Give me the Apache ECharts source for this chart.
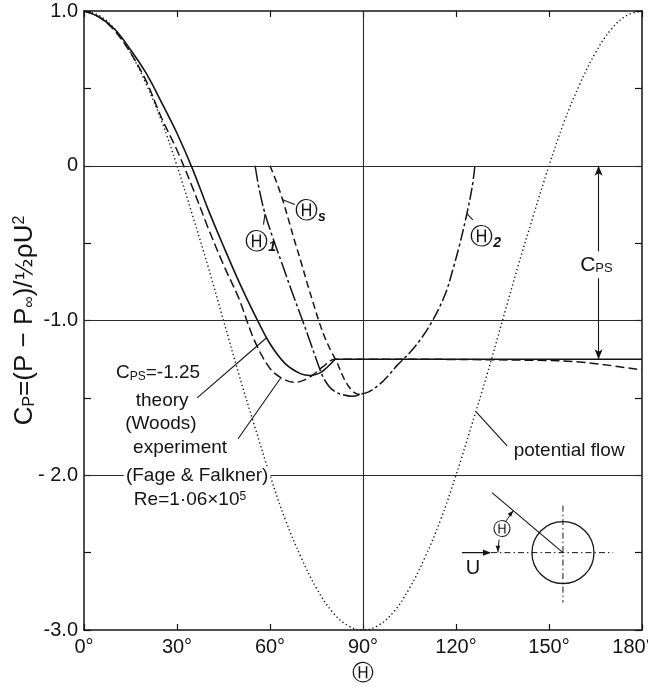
<!DOCTYPE html>
<html><head><meta charset="utf-8">
<script src="https://cdn.jsdelivr.net/npm/echarts@6/dist/echarts.min.js"></script>
<style>html,body{margin:0;padding:0;background:#fff}#c{width:648px;height:687px}</style>
</head><body><div id="c"></div>
<script>
// ---- data ----
const xTicks = [0, 30, 60, 90, 120, 150, 180];
const xTickLabels = ['0°', '30°', '60°', '90°', '120°', '150°', '180°'];
const yTickValues = [1, 0, -1, -2, -3];
const yTickLabels = ['1.0', '0', '-1.0', '- 2.0', '-3.0'];

const potentialTheta = [0,5,10,15,20,25,30,35,40,45,50,55,60,65,70,75,80,85,90,95,100,105,110,115,120,125,130,135,140,145,150,155,160,165,170,175,180];
const potentialCp = [1.0,0.97,0.88,0.73,0.53,0.29,0.0,-0.32,-0.65,-1.0,-1.35,-1.68,-2.0,-2.29,-2.53,-2.73,-2.88,-2.97,-3.0,-2.97,-2.88,-2.73,-2.53,-2.29,-2.0,-1.68,-1.35,-1.0,-0.65,-0.32,0.0,0.29,0.53,0.73,0.88,0.97,1.0];

const theoryTheta = [0,5,10,15,20,25,30,35,40,45,50,55,60,65,70,73,76,78,81];
const theoryCp = [1.0,0.96,0.88,0.75,0.60,0.41,0.21,-0.02,-0.28,-0.52,-0.75,-0.96,-1.15,-1.28,-1.345,-1.355,-1.34,-1.31,-1.25];
const plateauTheta = [81, 180];
const plateauCp = [-1.25, -1.25];

const experimentTheta = [0,5,10,15,20,25,30,35,40,45,50,55,60,64,68,71,74,77,81,153,180];
const experimentCp = [1.0,0.96,0.87,0.73,0.55,0.31,0.10,-0.14,-0.40,-0.64,-0.86,-1.13,-1.31,-1.375,-1.40,-1.385,-1.35,-1.30,-1.25,-1.26,-1.32];

const theta1Theta = [55.2,56.5,58.4,61,64,67,70.5,73,75,77,79,81,83.5,86.5,89.5];
const theta1Cp = [0,-0.15,-0.31,-0.47,-0.64,-0.81,-1.0,-1.14,-1.255,-1.36,-1.425,-1.46,-1.48,-1.49,-1.475];

const thetaSTheta = [60,62,64,66,68,70,72,74,75.7,77.5,79.5,81.6,83.5,85.5,87.5,89.5];
const thetaSCp = [0,-0.10,-0.215,-0.35,-0.49,-0.62,-0.76,-0.89,-1.0,-1.1,-1.19,-1.27,-1.36,-1.43,-1.47,-1.48];

const theta2Theta = [89.5,92,95.5,98,101,105,109,112.6,115,117,119,121.3,123.5,125.2,126.1];
const theta2Cp = [-1.475,-1.46,-1.41,-1.36,-1.29,-1.21,-1.11,-0.995,-0.9,-0.805,-0.67,-0.50,-0.31,-0.14,0];

const gridLinesCp = [0, -1, -2];
const gridLinesTheta = [90];
const cpsArrow = {theta: 166, from: 0, to: -1.25};

// ---- build ----
const zip = (a, b) => a.map((v, i) => [v, b[i]]);
const FONT = 'Liberation Sans';
const INK = '#141414';

function lineSeries(name, xs, ys, type, width, extra) {
  return Object.assign({
    name, type: 'line', data: zip(xs, ys), showSymbol: false, symbol: 'none',
    smooth: 0.35, silent: true,
    lineStyle: {color: INK, width: width, type: type}
  }, extra || {});
}

const option = {
  animation: false,
  backgroundColor: '#fff',
  grid: {left: 84, right: 6, top: 11, bottom: 57, containLabel: false, outerBoundsMode: 'none'},
  xAxis: [{
    type: 'value', min: 0, max: 180, interval: 30, position: 'bottom',
    name: 'Ⓗ', nameLocation: 'middle', nameGap: 33,
    nameTextStyle: {fontSize: 22, color: INK, fontFamily: 'DejaVu Sans'},
    axisLine: {show: true, onZero: false, lineStyle: {color: INK, width: 1.5}},
    axisTick: {show: true, inside: true, length: 6, lineStyle: {color: INK, width: 1.2}},
    axisLabel: {color: INK, fontSize: 20, fontFamily: FONT, margin: 7,
      rich: {m: {fontSize: 20, fontFamily: FONT, color: INK, padding: [0, 18, 0, 0]}},
      formatter: v => {
        const i = xTicks.indexOf(v);
        if (i < 0) return '';
        return i === xTicks.length - 1 ? '{m|' + xTickLabels[i] + '}' : xTickLabels[i];
      }},
    splitLine: {show: false}
  }, {
    type: 'value', min: 0, max: 180, interval: 30, position: 'top',
    axisLine: {show: true, onZero: false, lineStyle: {color: INK, width: 1.5}},
    axisTick: {show: true, inside: true, length: 6, lineStyle: {color: INK, width: 1.2}},
    axisLabel: {show: false}, splitLine: {show: false}
  }],
  yAxis: [{
    type: 'value', min: -3, max: 1, interval: 0.5, position: 'left',
    name: '{a|C}{s|P}{a|=(P − P}{s|∞}{a|)/}{f|½}{a|ρU}{p|2}',
    nameLocation: 'middle', nameGap: 46, nameRotate: 90, nameMoveOverlap: false,
    nameTextStyle: {
      color: INK,
      rich: {
        a: {fontSize: 26, fontFamily: FONT, color: INK, verticalAlign: 'bottom'},
        s: {fontSize: 16, fontFamily: FONT, color: INK, verticalAlign: 'bottom'},
        f: {fontSize: 23, fontFamily: 'DejaVu Sans', color: INK, verticalAlign: 'bottom'},
        p: {fontSize: 16, fontFamily: FONT, color: INK, verticalAlign: 'top'}
      }
    },
    axisLine: {show: true, onZero: false, lineStyle: {color: INK, width: 1.5}},
    axisTick: {show: true, inside: true, length: 7, lineStyle: {color: INK, width: 1.2}},
    axisLabel: {color: INK, fontSize: 20, fontFamily: FONT, margin: 6,
      formatter: v => { const i = yTickValues.findIndex(t => Math.abs(t - v) < 1e-6); return i >= 0 ? yTickLabels[i] : ''; }},
    splitLine: {show: false}
  }, {
    type: 'value', min: -3, max: 1, interval: 0.5, position: 'right',
    axisLine: {show: true, onZero: false, lineStyle: {color: INK, width: 1.5}},
    axisTick: {show: true, inside: true, length: 7, lineStyle: {color: INK, width: 1.2}},
    axisLabel: {show: false}, splitLine: {show: false}
  }],
  series: [
    lineSeries('potential flow', potentialTheta, potentialCp, [1.3, 2.7], 1.4, {
      smooth: 0.4,
      markLine: {
        silent: true, symbol: ['none', 'none'], label: {show: false},
        lineStyle: {color: '#2a2a2a', width: 1.1, type: 'solid'},
        data: gridLinesCp.map(v => ({yAxis: v})).concat(gridLinesTheta.map(v => ({xAxis: v})))
      }
    }),
    lineSeries('experiment', experimentTheta, experimentCp, [9, 4], 1.5),
    lineSeries('theory', theoryTheta, theoryCp, 'solid', 1.6),
    lineSeries('theory plateau', plateauTheta, plateauCp, 'solid', 1.6, {
      smooth: false,
      markLine: {
        silent: true, symbol: ['arrow', 'arrow'], symbolSize: [6, 10], label: {show: false},
        lineStyle: {color: INK, width: 1.1, type: 'solid'},
        data: [[{coord: [cpsArrow.theta, cpsArrow.from]}, {coord: [cpsArrow.theta, cpsArrow.to]}]]
      }
    }),
    lineSeries('Θ1', theta1Theta, theta1Cp, [16, 3, 3, 3], 1.5),
    lineSeries('Θs', thetaSTheta, thetaSCp, [7, 4], 1.5),
    lineSeries('Θ2', theta2Theta, theta2Cp, [12, 3, 3, 3], 1.5)
  ]
};

const chart = echarts.init(document.getElementById('c'));
chart.setOption(option);

const P = (t, c) => chart.convertToPixel({xAxisIndex: 0, yAxisIndex: 0}, [t, c]);
const txt = (pos, text, size, extra) => Object.assign({
  type: 'text', z: 100, x: pos[0], y: pos[1],
  style: Object.assign({text: text, fill: INK, font: size + 'px "' + FONT + '"', align: 'center', verticalAlign: 'middle'}, extra && extra.style || {})
}, extra && extra.el || {});
const seg = (a, b, w, dash) => ({
  type: 'line', z: 100, shape: {x1: a[0], y1: a[1], x2: b[0], y2: b[1]},
  style: {stroke: INK, lineWidth: w || 1.1, lineDash: dash || null}
});
function arrowHead(tip, dx, dy, size) {
  const L = Math.hypot(dx, dy); dx /= L; dy /= L;
  const bx = tip[0] - dx * size, by = tip[1] - dy * size;
  const px = -dy * size * 0.38, py = dx * size * 0.38;
  return {type: 'polygon', z: 101, shape: {points: [tip, [bx + px, by + py], [bx - px, by - py]]}, style: {fill: INK}};
}

const g = [];
const whiteBg = {backgroundColor: '#fff', padding: [0, 2]};
g.push(txt(P(23.9, -1.338), '', 19, {style: {
  text: '{c|C}{s|PS}{c|=-1.25}',
  rich: {c: {fontSize: 19, fontFamily: FONT, fill: INK, verticalAlign: 'bottom'}, s: {fontSize: 12, fontFamily: FONT, fill: INK, verticalAlign: 'bottom'}}
}}));
g.push(txt(P(25.2, -1.519), 'theory', 19));
g.push(txt(P(24.8, -1.667), '(Woods)', 19));
g.push(txt(P(31.0, -1.822), 'experiment', 19));
g.push(txt(P(36.5, -2.003), '(Fage & Falkner)', 19, {style: whiteBg}));
g.push(txt(P(34.2, -2.158), '', 19, {style: {
  text: '{c|Re=1·06×10}{p|5}',
  rich: {c: {fontSize: 19, fontFamily: FONT, fill: INK, verticalAlign: 'bottom'}, p: {fontSize: 12, fontFamily: FONT, fill: INK, verticalAlign: 'top'}}
}}));
g.push(seg(P(36.5, -1.50), P(59, -1.11)));
g.push(seg(P(49.7, -1.764), P(63.5, -1.37)));
g.push(txt(P(156.5, -1.84), 'potential flow', 19));
g.push(seg(P(126.5, -1.59), P(136.5, -1.81)));
g.push(txt(P(165.3, -0.64), '', 19, {style: {
  text: '{c|C}{s|PS}', backgroundColor: '#fff', padding: [3, 1],
  rich: {c: {fontSize: 21, fontFamily: FONT, fill: INK, verticalAlign: 'bottom'}, s: {fontSize: 13, fontFamily: FONT, fill: INK, verticalAlign: 'bottom'}}
}}));
const circ = (pos, sub) => txt(pos, '', 18, {style: {
  text: '{h|Ⓗ}{s|' + sub + '}',
  rich: {h: {fontSize: 23, fontFamily: 'DejaVu Sans', fill: INK, verticalAlign: 'bottom'}, s: {fontSize: 14, fontFamily: FONT, fill: INK, fontWeight: 'bold', fontStyle: 'italic', verticalAlign: 'bottom'}}
}});
g.push(circ(P(57.0, -0.50), '1'));
g.push(seg(P(58.4, -0.31), P(57.9, -0.38)));
g.push(circ(P(73.0, -0.30), 's'));
g.push(seg(P(64.1, -0.22), P(68.0, -0.25)));
g.push(circ(P(129.6, -0.47), '2'));
g.push(seg(P(123.5, -0.31), P(125.4, -0.35)));

const C = P(154.5, -2.5);
const R = 31;
g.push({type: 'circle', z: 100, shape: {cx: C[0], cy: C[1], r: R}, style: {fill: null, stroke: INK, lineWidth: 1.3}});
g.push(seg([C[0] - 101, C[1]], [C[0] - 73, C[1]], 1.2));
g.push(arrowHead([C[0] - 72, C[1]], 1, 0, 8));
g.push(seg([C[0] - 72, C[1]], [C[0] + 50, C[1]], 1, [6, 3, 1.5, 3]));
g.push(seg([C[0], C[1] - 47], [C[0], C[1] + 50], 1, [6, 3, 1.5, 3]));
g.push(seg([C[0] - 71, C[1] - 60], [C[0], C[1]], 1.1));
const AR = 65, A1 = Math.PI, A2 = Math.PI + 0.70;
g.push({type: 'arc', z: 100, shape: {cx: C[0], cy: C[1], r: AR, startAngle: A1, endAngle: A2, clockwise: true}, style: {stroke: INK, lineWidth: 1, fill: null}});
g.push(arrowHead([C[0] + AR * Math.cos(A1), C[1] + AR * Math.sin(A1) - 1], 0, 1, 6));
g.push(arrowHead([C[0] + AR * Math.cos(A2), C[1] + AR * Math.sin(A2)], -Math.sin(A2), Math.cos(A2), 6));
g.push(txt([C[0] - 61, C[1] - 22], 'Ⓗ', 18, {style: {font: '18px "DejaVu Sans"', backgroundColor: '#fff', padding: [0, 0]}}));
g.push(txt([C[0] - 90, C[1] + 16], 'U', 20));

chart.setOption({graphic: {elements: g}});
</script>
</body></html>
